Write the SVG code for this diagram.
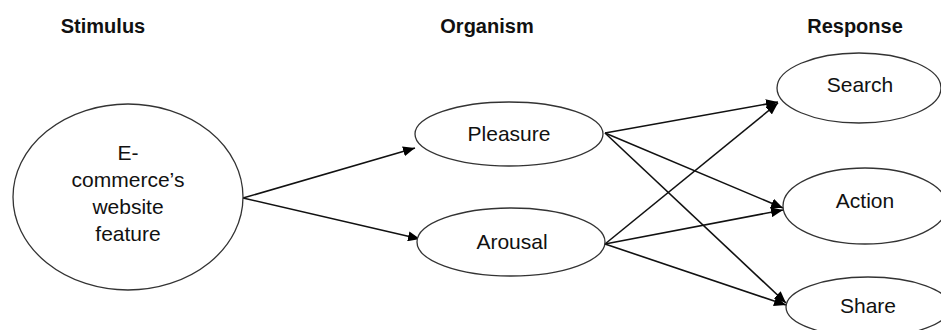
<svg xmlns="http://www.w3.org/2000/svg" width="941" height="330" viewBox="0 0 941 330">
<defs>
<marker id="arr" viewBox="0 0 12 10" refX="12" refY="5" markerWidth="12" markerHeight="10" markerUnits="userSpaceOnUse" orient="auto">
<path d="M0,0 L12,5 L0,10 z" fill="#000"/>
</marker>
<style>
.n{fill:#fff;stroke:#333;stroke-width:1.3}
.t{font-family:"Liberation Sans",Arial,sans-serif;font-size:21px;fill:#111;text-anchor:middle}
.h{font-family:"Liberation Sans",Arial,sans-serif;font-size:20px;font-weight:bold;fill:#111;text-anchor:middle}
.c{stroke:#111;stroke-width:1.6;fill:none;marker-end:url(#arr)}
</style>
</defs>
<rect width="941" height="330" fill="#fff"/>
<g id="headers">
<text class="h" x="103" y="33">Stimulus</text>
<text class="h" x="487" y="33">Organism</text>
<text class="h" x="855" y="33">Response</text>
</g>
<g id="connectors">
<line class="c" x1="243" y1="198" x2="415" y2="148"/>
<line class="c" x1="243" y1="198" x2="420" y2="239"/>
<line class="c" x1="605" y1="133" x2="778" y2="102"/>
<line class="c" x1="605" y1="133" x2="783" y2="208"/>
<line class="c" x1="605" y1="133" x2="786" y2="303"/>
<line class="c" x1="605" y1="244" x2="778" y2="103"/>
<line class="c" x1="605" y1="244" x2="783" y2="210"/>
<line class="c" x1="605" y1="244" x2="786" y2="305"/>
</g>
<g id="stimulus">
<ellipse class="n" cx="128" cy="197" rx="115" ry="93"/>
<text class="t" x="128" y="160">E-</text>
<text class="t" x="128" y="187">commerce’s</text>
<text class="t" x="128" y="214">website</text>
<text class="t" x="128" y="241">feature</text>
</g>
<g id="pleasure">
<ellipse class="n" cx="509" cy="134" rx="94" ry="32"/>
<text class="t" x="509" y="141">Pleasure</text>
</g>
<g id="arousal">
<ellipse class="n" cx="511" cy="242" rx="94" ry="34"/>
<text class="t" x="512" y="249">Arousal</text>
</g>
<g id="search">
<ellipse class="n" cx="859" cy="88" rx="82" ry="35"/>
<text class="t" x="860" y="92">Search</text>
</g>
<g id="action">
<ellipse class="n" cx="865" cy="206" rx="82" ry="38"/>
<text class="t" x="865" y="208">Action</text>
</g>
<g id="share">
<ellipse class="n" cx="868" cy="307" rx="82" ry="30"/>
<text class="t" x="868" y="313">Share</text>
</g>
</svg>
